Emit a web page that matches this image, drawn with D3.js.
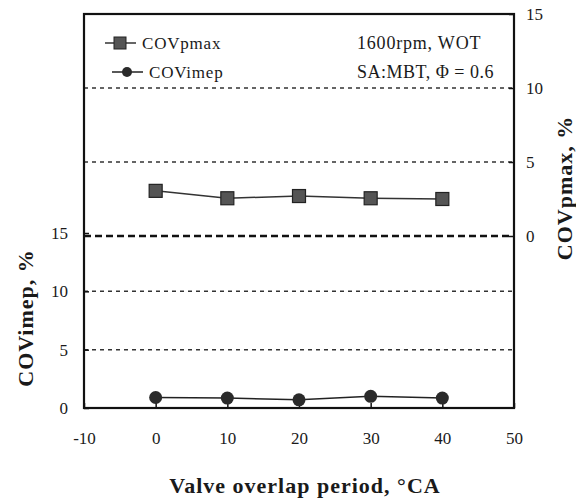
<!DOCTYPE html>
<html>
<head>
<meta charset="utf-8">
<script src="https://cdn.jsdelivr.net/npm/d3@7"></script>
<style>
  body { margin: 0; background: #fff; }
  text { font-family: "Liberation Serif", "DejaVu Serif", serif; fill: #1a1a1a; }
</style>
</head>
<body>
<div id="chart"></div>
<script>
// data
var overlap = [0, 10, 20, 30, 40];
var covPmax = [3.05, 2.55, 2.7, 2.55, 2.5];
var covImep = [0.9, 0.85, 0.7, 1.0, 0.85];
var xTicks = [-10, 0, 10, 20, 30, 40, 50];
var yTicks = [0, 5, 10, 15];

var w = 576, h = 500;
var pLeft = 84, pRight = 514, pTop = 14, pBottom = 408;

var svg = d3.select("#chart").append("svg")
    .attr("width", w)
    .attr("height", h);

var x = d3.scaleLinear().domain([-10, 50]).range([pLeft, pRight]);
// lower panel (COVimep) uses the left axis, upper panel (COVpmax) the right one
var yL = d3.scaleLinear().domain([0, 15]).range([pBottom, 233]);
var yR = d3.scaleLinear().domain([0, 15]).range([236, pTop]);

// dotted grid lines
[5, 10].forEach(function (v) {
    svg.append("line")
        .attr("x1", pLeft).attr("x2", pRight)
        .attr("y1", yR(v)).attr("y2", yR(v))
        .style("stroke", "#333").style("stroke-width", 1.5)
        .style("stroke-dasharray", "4,4");
    svg.append("line")
        .attr("x1", pLeft).attr("x2", pRight)
        .attr("y1", yL(v)).attr("y2", yL(v))
        .style("stroke", "#333").style("stroke-width", 1.5)
        .style("stroke-dasharray", "4,4");
});
// heavier dashed divider between the two panels
svg.append("line")
    .attr("x1", pLeft).attr("x2", pRight)
    .attr("y1", yR(0)).attr("y2", yR(0))
    .style("stroke", "#111").style("stroke-width", 2.5)
    .style("stroke-dasharray", "7,4");

var plain = function (d) { return String(d); };

// axes
var xAxis = svg.append("g")
    .attr("transform", "translate(0," + pBottom + ")")
    .call(d3.axisBottom(x).tickValues(xTicks).tickFormat(plain).tickSizeInner(-5).tickSizeOuter(0).tickPadding(24));
var lAxis = svg.append("g")
    .attr("transform", "translate(" + pLeft + ",0)")
    .call(d3.axisLeft(yL).tickValues(yTicks).tickFormat(plain).tickSizeInner(-5).tickSizeOuter(0).tickPadding(16));
var rAxis = svg.append("g")
    .attr("transform", "translate(" + pRight + ",0)")
    .call(d3.axisRight(yR).tickValues(yTicks).tickFormat(plain).tickSizeInner(-5).tickSizeOuter(0).tickPadding(12));

[xAxis, lAxis, rAxis].forEach(function (g) {
    g.select(".domain").remove();
    g.selectAll("line").style("stroke", "#111").style("stroke-width", 1.5);
    g.selectAll("text").style("font-size", "17px").style("font-family", "Liberation Serif, serif").style("fill", "#1a1a1a");
});

// frame
svg.append("rect")
    .attr("x", pLeft).attr("y", pTop)
    .attr("width", pRight - pLeft).attr("height", pBottom - pTop)
    .style("fill", "none").style("stroke", "#111").style("stroke-width", 2.2);

// lines
var linePmax = d3.line()
    .x(function (d, i) { return x(overlap[i]); })
    .y(function (d) { return yR(d); });
var lineImep = d3.line()
    .x(function (d, i) { return x(overlap[i]); })
    .y(function (d) { return yL(d); });

svg.append("path").attr("d", linePmax(covPmax))
    .style("fill", "none").style("stroke", "#333").style("stroke-width", 1.5);
svg.append("path").attr("d", lineImep(covImep))
    .style("fill", "none").style("stroke", "#222").style("stroke-width", 1.5);

svg.selectAll(".sq")
    .data(covPmax)
    .enter()
    .append("rect")
    .attr("class", "sq")
    .attr("x", function (d, i) { return x(overlap[i]) - 6.5; })
    .attr("y", function (d) { return yR(d) - 6.5; })
    .attr("width", 13).attr("height", 13)
    .style("fill", "#555").style("stroke", "#222").style("stroke-width", 1.2);

svg.selectAll(".dot")
    .data(covImep)
    .enter()
    .append("circle")
    .attr("class", "dot")
    .attr("cx", function (d, i) { return x(overlap[i]); })
    .attr("cy", function (d) { return yL(d); })
    .attr("r", 6.5)
    .style("fill", "#2a2a2a");

// legend
svg.append("line").attr("x1", 105).attr("x2", 136).attr("y1", 43).attr("y2", 43)
    .style("stroke", "#333").style("stroke-width", 1.5);
svg.append("rect").attr("x", 114).attr("y", 37).attr("width", 12).attr("height", 12)
    .style("fill", "#555").style("stroke", "#222");
svg.append("text").attr("x", 142).attr("y", 49)
    .style("font-size", "17px").style("letter-spacing", "0.8px").text("COVpmax");

svg.append("line").attr("x1", 112).attr("x2", 143).attr("y1", 72).attr("y2", 72)
    .style("stroke", "#222").style("stroke-width", 1.5);
svg.append("circle").attr("cx", 127).attr("cy", 72).attr("r", 5).style("fill", "#2a2a2a");
svg.append("text").attr("x", 149).attr("y", 78)
    .style("font-size", "17px").style("letter-spacing", "0.8px").text("COVimep");

// conditions
svg.append("text").attr("x", 357).attr("y", 49)
    .style("font-size", "18px").style("letter-spacing", "0.8px").text("1600rpm, WOT");
svg.append("text").attr("x", 357).attr("y", 78)
    .style("font-size", "18px").style("letter-spacing", "0.5px").text("SA:MBT, \u03A6 = 0.6");

// axis titles
svg.append("text")
    .attr("x", 305).attr("y", 493)
    .attr("text-anchor", "middle")
    .style("font-size", "22px").style("font-weight", "bold").style("letter-spacing", "1px")
    .text("Valve overlap period, \u00B0CA");
svg.append("text")
    .attr("transform", "translate(33,318) rotate(-90)")
    .attr("text-anchor", "middle")
    .style("font-size", "22px").style("font-weight", "bold").style("letter-spacing", "1px")
    .text("COVimep, %");
svg.append("text")
    .attr("transform", "translate(572,188) rotate(-90)")
    .attr("text-anchor", "middle")
    .style("font-size", "22px").style("font-weight", "bold").style("letter-spacing", "1px")
    .text("COVpmax, %");
</script>
</body>
</html>
